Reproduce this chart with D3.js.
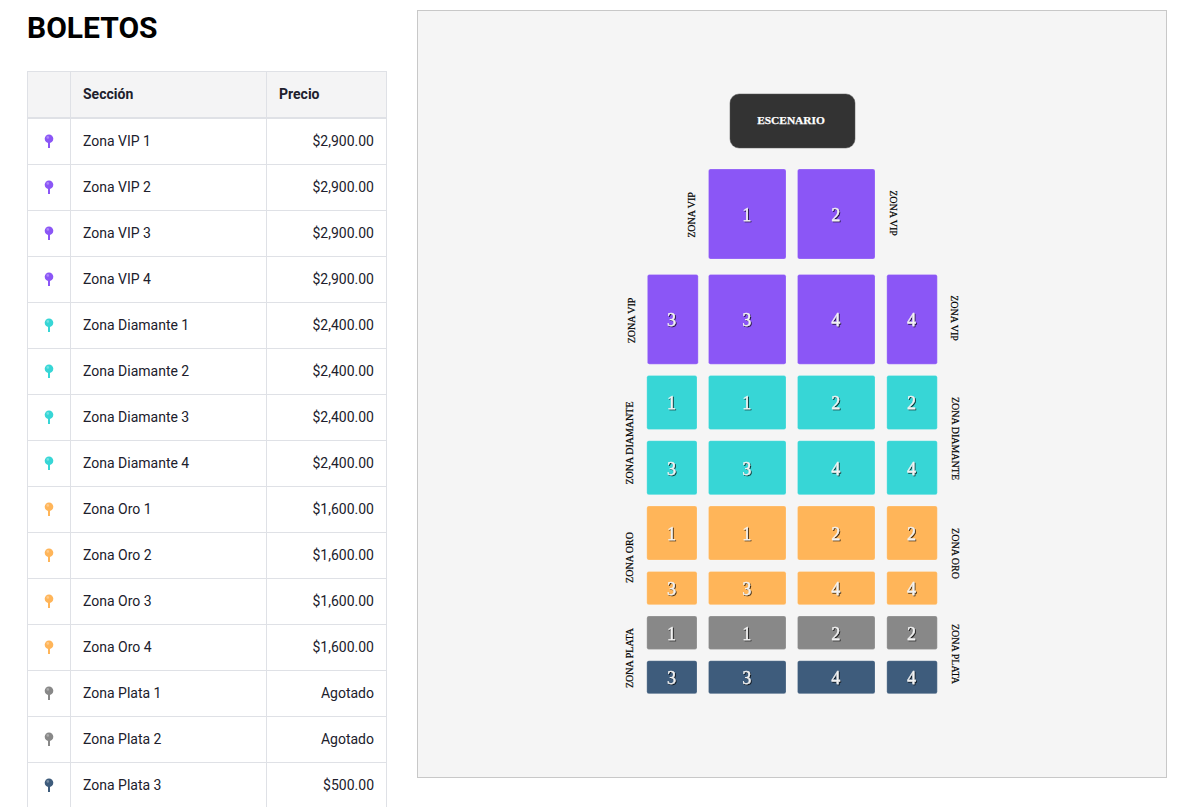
<!DOCTYPE html>
<html>
<head>
<meta charset="utf-8">
<script src="https://cdn.jsdelivr.net/npm/d3@7"></script>
<style>
  html, body { margin: 0; padding: 0; background: #fff; overflow: hidden; }
  svg { display: block; }
  .tabla text { font-family: Roboto, sans-serif; font-size: 14px; fill: #20202c; }
  .mapa text { font-family: "Liberation Serif", serif; }
</style>
</head>
<body>
<div id="chart"></div>
<script>
// tabla de boletos
const secciones = ['Zona VIP 1', 'Zona VIP 2', 'Zona VIP 3', 'Zona VIP 4',
  'Zona Diamante 1', 'Zona Diamante 2', 'Zona Diamante 3', 'Zona Diamante 4',
  'Zona Oro 1', 'Zona Oro 2', 'Zona Oro 3', 'Zona Oro 4',
  'Zona Plata 1', 'Zona Plata 2', 'Zona Plata 3']
const precios = ['$2,900.00', '$2,900.00', '$2,900.00', '$2,900.00',
  '$2,400.00', '$2,400.00', '$2,400.00', '$2,400.00',
  '$1,600.00', '$1,600.00', '$1,600.00', '$1,600.00',
  'Agotado', 'Agotado', '$500.00']
const encabezados = ['', 'Sección', 'Precio']

// mapa de asientos
const columnas = ['a', 'b', 'c', 'd']
const filas = ['vip1', 'vip2', 'dia1', 'dia2', 'oro1', 'oro2', 'plata1', 'plata2']
const numerosFila = {
  vip1: [null, 1, 2, null],
  vip2: [3, 3, 4, 4],
  dia1: [1, 1, 2, 2],
  dia2: [3, 3, 4, 4],
  oro1: [1, 1, 2, 2],
  oro2: [3, 3, 4, 4],
  plata1: [1, 1, 2, 2],
  plata2: [3, 3, 4, 4]
}
const zonas = ['ZONA VIP', 'ZONA DIAMANTE', 'ZONA ORO', 'ZONA PLATA']

const width = 1181
const height = 807

const colorSeccion = d3.scaleOrdinal()
  .domain(['VIP', 'Diamante', 'Oro', 'Plata', 'Plata 3'])
  .range(['#8b56f6', '#37d6d6', '#ffb559', '#888888', '#3e5c7c'])

function colorDeSeccion(nombre) {
  if (nombre === 'Zona Plata 3') return colorSeccion('Plata 3')
  return colorSeccion(nombre.split(' ')[1])
}

const colorFila = d3.scaleOrdinal()
  .domain(filas)
  .range(['VIP', 'VIP', 'Diamante', 'Diamante', 'Oro', 'Oro', 'Plata', 'Plata 3'].map(d => colorSeccion(d)))

const svg = d3.select('#chart').append('svg')
  .attr('width', width)
  .attr('height', height)

svg.append('text')
  .attr('x', 27)
  .attr('y', 38)
  .attr('font-family', 'Roboto, sans-serif')
  .attr('font-weight', 700)
  .attr('font-size', 30)
  .attr('fill', '#000')
  .text('BOLETOS')

// ---- tabla ----
const tabla = svg.append('g').attr('class', 'tabla')
const rowY = d3.scaleBand().domain(secciones).range([118.5, 808.5])
const lineColor = '#dfe1e6'
const colEdges = [27.5, 70.5, 266.5, 386.5]

tabla.append('rect')
  .attr('x', colEdges[0]).attr('y', 71.5)
  .attr('width', colEdges[3] - colEdges[0]).attr('height', 46)
  .attr('fill', '#f4f4f5')

tabla.selectAll('.sep').data(secciones).enter().append('line')
  .attr('x1', colEdges[0]).attr('x2', colEdges[3])
  .attr('y1', d => rowY(d) + rowY.bandwidth())
  .attr('y2', d => rowY(d) + rowY.bandwidth())
  .attr('stroke', lineColor)

tabla.append('line')
  .attr('x1', colEdges[0]).attr('x2', colEdges[3])
  .attr('y1', 71.5).attr('y2', 71.5)
  .attr('stroke', lineColor)
tabla.append('line')
  .attr('x1', colEdges[0]).attr('x2', colEdges[3])
  .attr('y1', 118).attr('y2', 118)
  .attr('stroke', lineColor).attr('stroke-width', 2)

tabla.selectAll('.col').data(colEdges).enter().append('line')
  .attr('x1', d => d).attr('x2', d => d)
  .attr('y1', 71).attr('y2', height)
  .attr('stroke', lineColor)

tabla.selectAll('.head').data(encabezados).enter().append('text')
  .attr('x', (d, i) => colEdges[i] + 12.5)
  .attr('y', 99)
  .style('font-weight', 700)
  .text(d => d)

const fila = tabla.selectAll('.fila').data(secciones).enter().append('g')
  .attr('transform', d => `translate(0,${rowY(d) + rowY.bandwidth() / 2 - 0.5})`)

fila.append('text').attr('x', 83).attr('y', 5).text(d => d)
fila.append('text')
  .attr('x', 374).attr('y', 5)
  .attr('text-anchor', 'end')
  .text((d, i) => precios[i])

// pin de color
fila.append('rect')
  .attr('x', 48).attr('y', -2).attr('width', 2).attr('height', 9)
  .attr('fill', colorDeSeccion)
fila.append('circle')
  .attr('cx', 49).attr('cy', -2.3).attr('r', 4.3)
  .attr('fill', colorDeSeccion)
fila.append('circle')
  .attr('cx', 47.8).attr('cy', -3.6).attr('r', 1.3)
  .attr('fill', '#fff').attr('opacity', 0.3)

// ---- mapa ----
const mapa = svg.append('g').attr('class', 'mapa')

const defs = svg.append('defs')
const sombra = defs.append('filter').attr('id', 'sombra')
  .attr('x', '-40%').attr('y', '-40%').attr('width', '180%').attr('height', '180%')
sombra.append('feDropShadow')
  .attr('dx', 1).attr('dy', 1)
  .attr('stdDeviation', 0.25)
  .attr('flood-color', '#000')
  .attr('flood-opacity', 0.75)

mapa.append('rect')
  .attr('x', 417.5).attr('y', 10.5)
  .attr('width', 749).attr('height', 767)
  .attr('fill', '#f5f5f5')
  .attr('stroke', '#c8c8c8')

mapa.append('rect')
  .attr('x', 730).attr('y', 94)
  .attr('width', 125).attr('height', 54)
  .attr('rx', 9)
  .attr('fill', '#333333')
  .attr('stroke', '#555')
  .attr('stroke-width', 0.5)

mapa.append('text')
  .attr('x', 791).attr('y', 124)
  .attr('text-anchor', 'middle')
  .attr('font-size', 11.4)
  .attr('font-weight', 700)
  .attr('fill', '#fff')
  .attr('stroke', '#fff')
  .attr('stroke-width', 0.25)
  .text('ESCENARIO')

const xCol = d3.scaleOrdinal().domain(columnas).range([646.8, 708.5, 797.5, 886.8])
const wCol = d3.scaleOrdinal().domain(columnas).range([50.2, 77.5, 77.5, 50.5])
const yFila = d3.scaleOrdinal().domain(filas).range([169, 274.5, 375.5, 440.7, 506, 571.5, 616, 660.7])
const hFila = d3.scaleOrdinal().domain(filas).range([90, 89.7, 54, 54, 54, 33.2, 33.4, 33])

const asientos = []
filas.forEach(f => {
  numerosFila[f].forEach((n, i) => {
    if (n !== null) asientos.push({ fila: f, col: columnas[i], numero: n })
  })
})

const asiento = mapa.selectAll('.asiento').data(asientos).enter().append('g')

// el bloque 3 de VIP es un poco mas ancho y corrido
const esVip3 = d => d.fila === 'vip2' && d.col === 'a'

asiento.append('rect')
  .attr('x', d => xCol(d.col) + (esVip3(d) ? 0.6 : 0))
  .attr('y', d => yFila(d.fila))
  .attr('width', d => wCol(d.col) + (esVip3(d) ? 0.6 : 0))
  .attr('height', d => hFila(d.fila))
  .attr('rx', 2)
  .attr('fill', d => colorFila(d.fila))
  .attr('stroke', '#fff')
  .attr('stroke-opacity', 0.35)
  .attr('stroke-width', 0.6)

asiento.append('text')
  .attr('x', d => xCol(d.col) + wCol(d.col) / 2 - 0.5)
  .attr('y', d => yFila(d.fila) + hFila(d.fila) / 2 + 6.8)
  .attr('text-anchor', 'middle')
  .attr('font-size', 18)
  .attr('fill', '#f2f2f2')
  .attr('stroke', '#f2f2f2')
  .attr('stroke-width', 0.3)
  .attr('filter', 'url(#sombra)')
  .text(d => d.numero)

// etiquetas de zona a los lados
const etiquetas = [
  { zona: zonas[0], yIzq: 215, yDer: 213, xIzq: 691, xDer: 893 },
  { zona: zonas[0], yIzq: 320.5, yDer: 318, xIzq: 631, xDer: 954 },
  { zona: zonas[1], yIzq: 443, yDer: 438.5, xIzq: 629, xDer: 955 },
  { zona: zonas[2], yIzq: 557.5, yDer: 553.5, xIzq: 629, xDer: 955 },
  { zona: zonas[3], yIzq: 658, yDer: 654, xIzq: 629, xDer: 955 }
]

function etiqueta(x, y, giro, texto) {
  mapa.append('text')
    .attr('transform', `translate(${x},${y}) rotate(${giro})`)
    .attr('text-anchor', 'middle')
    .attr('dominant-baseline', 'central')
    .attr('font-size', 10)
    .attr('fill', '#000')
    .attr('stroke', '#000')
    .attr('stroke-width', 0.2)
    .text(texto)
}

etiquetas.forEach(d => {
  etiqueta(d.xIzq, d.yIzq, -90, d.zona)
  etiqueta(d.xDer, d.yDer, 90, d.zona)
})
</script>
</body>
</html>
